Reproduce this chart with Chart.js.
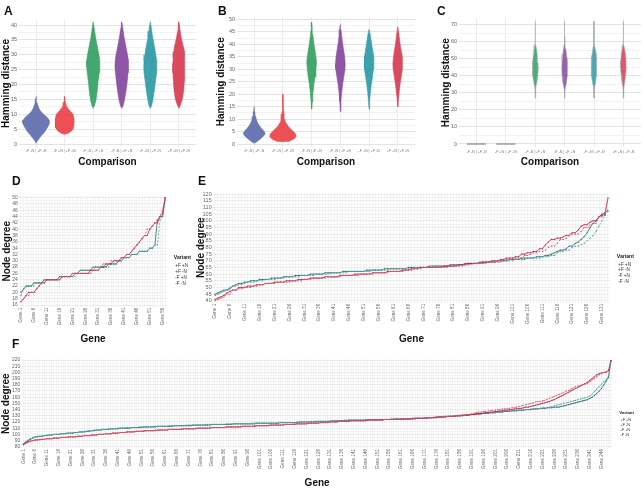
<!DOCTYPE html>
<html>
<head>
<meta charset="utf-8">
<script src="https://cdn.jsdelivr.net/npm/chart.js@4.4.0/dist/chart.umd.min.js"></script>
<style>
  body { margin: 0; background: #fff; width: 642px; height: 490px; position: relative; overflow: hidden; font-family: 'Liberation Sans', Arial, sans-serif; }
  canvas { position: absolute; }
  .tag { position: absolute; font-weight: bold; font-size: 12px; color: #111; line-height: 12px; }
</style>
</head>
<body>
<canvas id="chartF" width="642" height="155" style="left:0;top:335px"></canvas>
<canvas id="chartD" width="200" height="177" style="left:0;top:170px"></canvas>
<canvas id="chartE" width="447" height="177" style="left:195px;top:170px"></canvas>
<canvas id="chartA" width="215" height="170" style="left:0;top:0"></canvas>
<canvas id="chartB" width="215" height="170" style="left:215px;top:0"></canvas>
<canvas id="chartC" width="202" height="170" style="left:440px;top:0"></canvas>
<div class="tag" style="left:4px;top:5px">A</div>
<div class="tag" style="left:218px;top:5px">B</div>
<div class="tag" style="left:437px;top:5px">C</div>
<div class="tag" style="left:12px;top:175px">D</div>
<div class="tag" style="left:198px;top:175px">E</div>
<div class="tag" style="left:12px;top:338px">F</div>
<script>
// ---- Data ----
const comparisons = ['-F -N | +F -N', '-F +N | +F +N', '-F -N | -F +N', '-F -N | +F +N', '-F +N | +F -N', '+F +N | +F -N'];
const variants = ['+F +N', '+F -N', '-F +N', '-F -N'];

// violin profiles: [hamming distance, half width]
const aV1 = [[0.3,0],[1,0.04],[2,0.12],[3,0.2],[4,0.29],[5,0.36],[6,0.42],[7,0.47],[8,0.46],[9,0.38],[10,0.26],[11,0.16],[12,0.1],[13,0.06],[14,0.03],[15,0.015],[16,0]];
const aV2 = [[3.3,0],[3.6,0.12],[4.5,0.25],[5.5,0.31],[7,0.33],[8.5,0.33],[10,0.29],[11,0.2],[12,0.11],[13,0.05],[14,0.03],[15,0.015],[16,0]];
const aV3 = [[12,0],[13,0.05],[15,0.1],[18,0.14],[21,0.17],[24,0.21],[26,0.23],[28,0.23],[30,0.2],[32,0.16],[34,0.12],[36,0.08],[38,0.05],[40,0.02],[41,0]];
const aV4 = [[12,0],[13,0.05],[15,0.1],[18,0.15],[21,0.19],[24,0.22],[26,0.24],[28,0.23],[30,0.2],[32,0.16],[34,0.12],[36,0.08],[38,0.05],[40,0.02],[41,0]];
const aV5 = [[12,0],[13,0.05],[15,0.09],[18,0.14],[21,0.18],[24,0.22],[26,0.23],[28,0.22],[30,0.19],[32,0.16],[34,0.12],[36,0.08],[38,0.05],[40,0.02],[41,0]];
const aV6 = [[12,0],[13,0.05],[15,0.12],[18,0.17],[21,0.19],[24,0.21],[27,0.21],[29,0.2],[31,0.18],[33,0.15],[35,0.1],[37,0.06],[39,0.03],[41,0]];

const bV1 = [[0.3,0],[1,0.1],[2,0.21],[3,0.31],[4,0.38],[5,0.35],[6,0.27],[7,0.2],[8,0.14],[9,0.1],[10,0.07],[11,0.05],[12,0.03],[13,0.02],[15,0]];
const bV2 = [[0.9,0],[1.1,0.22],[2,0.38],[3,0.46],[4,0.44],[5,0.36],[6,0.27],[7,0.19],[8,0.13],[9,0.08],[10,0.06],[12,0.04],[14,0.02],[17,0.01],[20,0]];
const bV3 = [[14,0],[17,0.02],[20,0.04],[24,0.08],[27,0.12],[30,0.15],[33,0.17],[35,0.15],[38,0.11],[41,0.07],[44,0.04],[47,0.02],[49,0]];
const bV4 = [[13,0],[17,0.02],[20,0.04],[24,0.08],[27,0.12],[30,0.16],[32,0.17],[35,0.15],[38,0.11],[41,0.07],[44,0.04],[46,0.02],[48,0]];
const bV5 = [[14,0],[17,0.02],[20,0.04],[24,0.08],[27,0.12],[30,0.15],[33,0.17],[35,0.16],[38,0.12],[41,0.08],[44,0.04],[46,0]];
const bV6 = [[15,0],[18,0.02],[21,0.05],[24,0.08],[27,0.12],[30,0.16],[32,0.17],[35,0.15],[38,0.11],[41,0.07],[44,0.04],[47,0]];

const cV1 = [[-0.4,0.31],[0.4,0.31]];
const cV2 = [[-0.4,0.31],[0.4,0.31]];
const cV3 = [[27,0.004],[33,0.015],[36,0.05],[40,0.08],[44,0.1],[48,0.09],[52,0.07],[56,0.04],[58,0.015],[62,0.006],[72,0.004]];
const cV4 = [[27,0.004],[32,0.015],[36,0.06],[40,0.09],[45,0.1],[49,0.09],[53,0.06],[56,0.04],[59,0.015],[63,0.006],[72,0.004]];
const cV5 = [[27,0.004],[33,0.015],[36,0.05],[40,0.08],[44,0.1],[48,0.09],[52,0.07],[56,0.04],[58,0.015],[62,0.006],[72,0.004]];
const cV6 = [[27,0.004],[33,0.015],[37,0.05],[41,0.08],[45,0.1],[49,0.09],[53,0.07],[56,0.04],[58,0.015],[62,0.006],[72,0.004]];

// node degree, sorted, as [degree, number of genes]
const dPP = [[17,1],[18,1],[19,2],[20,2],[21,1],[22,1],[23,2],[24,6],[25,4],[26,8],[27,3],[28,1],[29,3],[30,4],[31,2],[32,2],[33,1],[34,1],[35,1],[36,1],[37,1],[38,1],[40,2],[41,1],[42,1],[43,1],[44,1],[46,1],[50,1]];
const dPM = [[17,1],[18,1],[19,1],[20,3],[21,1],[22,1],[23,2],[24,6],[25,4],[26,7],[27,4],[28,2],[29,3],[30,3],[31,2],[32,2],[33,1],[34,1],[35,1],[36,1],[37,1],[38,2],[40,1],[41,1],[42,2],[44,1],[45,1],[50,1]];
const dMP = [[19,1],[21,1],[22,4],[23,3],[24,7],[25,6],[26,1],[27,6],[28,6],[29,3],[30,2],[31,3],[32,3],[33,4],[34,2],[35,2],[43,1],[44,1],[50,1]];
const dMM = [[20,1],[21,1],[22,3],[23,4],[24,6],[25,6],[26,2],[27,5],[28,6],[29,4],[30,2],[31,3],[32,3],[33,4],[34,2],[35,1],[43,1],[44,2],[50,1]];

const ePP = [[40,1],[41,1],[42,1],[43,1],[45,2],[48,2],[49,2],[50,3],[51,2],[52,2],[53,4],[54,5],[55,4],[56,3],[57,5],[58,5],[59,6],[60,5],[61,5],[62,5],[63,3],[64,3],[65,9],[66,5],[67,3],[68,4],[69,4],[70,3],[71,3],[72,3],[74,2],[75,1],[76,2],[77,2],[78,1],[80,1],[81,2],[83,1],[86,2],[87,1],[89,1],[90,3],[92,1],[95,2],[97,1],[98,2],[103,2],[104,1],[117,1]];
const ePM = [[41,1],[42,1],[43,1],[44,1],[46,1],[47,1],[48,2],[50,3],[51,3],[52,3],[53,3],[54,4],[55,4],[56,4],[57,5],[58,5],[59,5],[60,6],[61,5],[62,5],[63,3],[64,3],[65,8],[66,5],[67,3],[68,4],[69,4],[70,3],[71,2],[72,3],[73,2],[75,2],[76,2],[77,2],[79,2],[82,1],[84,1],[86,2],[87,2],[88,1],[89,2],[91,2],[93,1],[96,1],[97,2],[99,1],[100,2],[103,1],[104,1],[105,1],[117,1]];
const eMP = [[44,1],[45,1],[46,1],[47,1],[48,1],[50,1],[51,2],[52,2],[53,1],[54,3],[55,3],[56,4],[57,3],[58,5],[59,5],[60,5],[61,6],[62,8],[63,6],[64,8],[65,7],[66,7],[67,5],[68,6],[69,5],[70,4],[71,4],[72,5],[73,3],[74,2],[76,1],[77,2],[78,2],[80,1],[81,2],[82,1],[83,1],[85,1],[87,1],[89,1],[92,1],[96,1],[100,1],[104,1],[107,1]];
const eMM = [[45,1],[46,1],[47,1],[48,2],[49,1],[51,1],[52,1],[53,2],[54,2],[55,3],[56,4],[57,4],[58,4],[59,5],[60,5],[61,6],[62,8],[63,6],[64,8],[65,7],[66,7],[67,5],[68,6],[69,5],[70,4],[71,4],[72,5],[73,3],[74,2],[75,1],[76,1],[77,1],[78,2],[79,1],[81,2],[83,1],[84,1],[86,1],[88,1],[91,1],[95,1],[98,1],[100,1],[103,1],[105,1],[106,1],[108,1]];

const fPP = [[83,1],[85,1],[87,1],[89,1],[90,2],[91,2],[92,2],[93,3],[94,3],[95,4],[96,3],[97,3],[98,3],[99,3],[100,3],[101,3],[102,3],[103,3],[104,3],[105,4],[106,5],[107,5],[108,6],[109,6],[110,6],[111,7],[112,6],[113,6],[114,6],[115,6],[116,5],[117,5],[118,4],[119,4],[120,5],[121,5],[122,7],[123,8],[124,7],[125,6],[126,5],[127,4],[128,4],[129,4],[130,3],[131,2],[132,2],[133,1],[134,1],[135,1],[136,2],[137,2],[138,2],[139,2],[140,2],[141,2],[142,2],[143,2],[144,1],[145,1],[146,1],[147,1],[148,1],[149,1],[150,1],[151,1],[152,1],[153,2],[154,1],[155,1],[157,1],[158,1],[160,1],[161,1],[163,1],[164,1],[166,1],[168,1],[170,1],[171,1],[173,1],[175,1],[177,1],[178,1],[179,1],[180,1],[181,1],[182,1],[185,1],[188,1],[190,1],[193,1],[196,1],[198,1],[200,2],[205,1],[219,1]];
const fPM = [[84,1],[86,1],[88,1],[89,1],[90,1],[91,2],[92,3],[93,3],[94,3],[95,3],[96,4],[97,3],[98,3],[99,3],[100,3],[101,3],[102,3],[103,3],[104,4],[105,4],[106,5],[107,5],[108,6],[109,6],[110,6],[111,6],[112,7],[113,6],[114,6],[115,6],[116,5],[117,5],[118,5],[119,4],[120,4],[121,5],[122,7],[123,7],[124,8],[125,6],[126,5],[127,4],[128,4],[129,4],[130,3],[131,3],[132,2],[133,2],[134,2],[135,2],[136,2],[137,2],[138,2],[139,2],[140,2],[141,2],[142,2],[143,1],[144,2],[145,1],[146,1],[147,1],[148,1],[149,1],[150,1],[151,1],[152,1],[153,1],[155,1],[156,1],[158,1],[160,1],[162,1],[164,1],[166,1],[168,1],[170,1],[172,1],[174,1],[176,1],[178,1],[180,1],[182,1],[184,1],[187,1],[190,1],[193,1],[196,1],[198,1],[199,1],[200,1],[201,1],[203,1],[219,1]];
const fMP = [[85,1],[88,1],[91,1],[93,1],[95,1],[96,1],[97,2],[98,2],[99,3],[100,3],[101,2],[102,3],[103,3],[104,2],[105,2],[106,2],[107,3],[108,3],[109,4],[110,4],[111,5],[112,6],[113,7],[114,7],[115,8],[116,9],[117,11],[118,11],[119,8],[120,6],[121,8],[122,6],[123,9],[124,11],[125,8],[126,6],[127,4],[128,4],[129,3],[130,3],[131,4],[132,2],[133,3],[134,3],[135,4],[136,3],[137,3],[138,3],[139,3],[140,3],[141,2],[142,3],[143,3],[144,1],[145,1],[146,1],[147,1],[148,1],[149,1],[150,1],[151,1],[152,1],[153,1],[154,1],[155,1],[156,1],[157,1],[158,1],[159,1],[160,1],[162,1],[165,1],[169,1],[173,1],[177,1],[181,1],[185,1],[188,1],[195,1],[219,1]];
const fMM = [[84,1],[87,1],[90,1],[92,1],[94,1],[96,2],[97,2],[98,2],[99,2],[100,3],[101,3],[102,3],[103,2],[104,3],[105,2],[106,2],[107,3],[108,3],[109,4],[110,5],[111,5],[112,6],[113,7],[114,8],[115,8],[116,9],[117,10],[118,10],[119,8],[120,7],[121,7],[122,7],[123,9],[124,10],[125,8],[126,6],[127,4],[128,4],[129,4],[130,3],[131,3],[132,3],[133,3],[134,3],[135,3],[136,3],[137,3],[138,3],[139,3],[140,3],[141,3],[142,3],[143,3],[144,3],[145,1],[146,1],[147,1],[148,1],[149,1],[150,1],[151,1],[152,1],[153,1],[154,1],[155,1],[156,1],[158,1],[160,1],[163,1],[166,1],[170,1],[174,1],[180,1],[186,1],[192,1],[219,1]];

// ---- Styling ----
Chart.defaults.font.family = "'Liberation Sans', Arial, sans-serif";
Chart.defaults.color = '#555';
Chart.defaults.animation = false;
Chart.defaults.plugins.tooltip.enabled = false;

const violinFills = ['rgba(96,108,172,0.92)', 'rgba(236,66,70,0.92)', 'rgba(52,160,98,0.92)', 'rgba(134,72,160,0.92)', 'rgba(44,154,164,0.92)', 'rgba(216,60,82,0.92)'];
const variantColors = ['#E0566B', '#B8213F', '#45A89F', '#2F6470'];
const variantDash = [[2, 1.5], [], [2, 1.5], []];

function expandRuns(runs) {
    const out = [];
    runs.forEach(([v, n]) => { for (let i = 0; i < n; i++) out.push(v); });
    return out;
}

function violinShape(center, profile) {
    const right = profile.map(([y, w]) => ({ x: center + w, y: y }));
    const left = profile.slice().reverse().map(([y, w]) => ({ x: center - w, y: y }));
    return right.concat(left);
}

function gridTicks(lo, hi, step) {
    const t = [];
    for (let v = Math.ceil(lo / step) * step; v <= hi + 1e-9; v += step) t.push({ value: Math.round(v * 100) / 100 });
    return t;
}

function violinChart(id, profiles, fills, stroke, box) {
    return new Chart(document.getElementById(id), {
        type: 'line',
        data: {
            datasets: profiles.map((p, i) => ({
                data: violinShape(i + 1, p),
                fill: 'shape',
                backgroundColor: fills[i],
                borderColor: stroke || fills[i],
                borderWidth: 0.6,
                pointRadius: 0,
                tension: 0
            }))
        },
        options: {
            responsive: false,
            layout: { padding: box.pad },
            plugins: { legend: { display: false } },
            scales: {
                x: {
                    type: 'linear', min: 0.4, max: 6.6,
                    afterBuildTicks: s => { s.ticks = comparisons.map((c, i) => ({ value: i + 1 })); },
                    ticks: { callback: v => comparisons[v - 1], font: { size: 3.6 }, color: '#777', maxRotation: 0, autoSkip: false, padding: 2 },
                    grid: { color: '#ebebeb', drawTicks: false },
                    border: { display: false },
                    title: { display: true, text: 'Comparison', font: { size: 10, weight: 'bold' }, color: '#111', padding: 0 },
                    afterFit: s => { s.height = box.xh; }
                },
                y: {
                    min: box.yMin, max: box.yMax,
                    afterBuildTicks: s => { s.ticks = gridTicks(box.yMin, box.yMax, box.step / 2); },
                    ticks: { autoSkip: false, callback: v => (v % box.step === 0 ? v : ''), font: { size: 5.5 }, color: '#666', padding: 2 },
                    grid: { color: c => (c.tick.value % box.step === 0 ? '#e4e4e4' : '#f2f2f2'), drawTicks: false },
                    border: { display: false },
                    title: { display: true, text: 'Hamming distance', font: { size: 10, weight: 'bold' }, color: '#111', padding: 0 },
                    afterFit: s => { s.width = box.yw; }
                }
            }
        }
    });
}

function degreeChart(id, runsList, box) {
    const series = runsList.map(expandRuns);
    const genes = series[0].map((v, i) => i + 1);
    return new Chart(document.getElementById(id), {
        type: 'line',
        data: {
            labels: genes,
            datasets: series.map((s, i) => ({
                label: variants[i],
                data: s,
                borderColor: variantColors[i],
                backgroundColor: variantColors[i],
                borderDash: variantDash[i],
                borderWidth: 0.8,
                pointRadius: 0.6,
                pointBorderWidth: 0,
                tension: 0
            }))
        },
        options: {
            responsive: false,
            layout: { padding: box.pad },
            plugins: {
                legend: {
                    position: 'right',
                    title: { display: true, text: 'Variant', font: { size: box.lf + 0.6, weight: 'bold' }, color: '#222', padding: 1 },
                    labels: { usePointStyle: true, pointStyle: 'line', pointStyleWidth: 5, boxHeight: 3, font: { size: box.lf }, color: '#333', padding: 1.2 }
                }
            },
            scales: {
                x: {
                    type: 'linear', min: 0.4, max: genes.length + 0.6,
                    afterBuildTicks: s => { s.ticks = genes.map(g => ({ value: g })); },
                    ticks: { autoSkip: false, minRotation: 90, maxRotation: 90, font: { size: 4.6 }, color: '#666', padding: 1,
                        callback: v => ((v - 1) % 5 === 0 ? 'Gene ' + v : '') },
                    grid: { color: '#ececec', lineWidth: 0.6, drawTicks: false },
                    border: { display: false },
                    title: { display: true, text: 'Gene', font: { size: 10, weight: 'bold' }, color: '#111', padding: 0 },
                    afterFit: s => { s.height = box.xh; }
                },
                y: {
                    min: box.yMin, max: box.yMax,
                    afterBuildTicks: s => { s.ticks = gridTicks(box.yMin, box.yMax, box.minor); },
                    ticks: { autoSkip: false, callback: v => (v % box.step === 0 ? v : ''), font: { size: box.yf }, color: '#666', padding: 1.5 },
                    grid: { color: c => (c.tick.value % box.step === 0 ? '#e2e2e2' : '#efefef'), lineWidth: 0.6, drawTicks: false },
                    border: { display: false },
                    title: { display: true, text: 'Node degree', font: { size: 10, weight: 'bold' }, color: '#111', padding: 0 },
                    afterFit: s => { s.width = box.yw; }
                }
            }
        }
    });
}

violinChart('chartA', [aV1, aV2, aV3, aV4, aV5, aV6], violinFills, null,
    { pad: { top: 20, right: 19, bottom: 2, left: 0 }, yw: 19, xh: 21, yMin: -1, yMax: 41.7, step: 5 });
violinChart('chartB', [bV1, bV2, bV3, bV4, bV5, bV6], violinFills, null,
    { pad: { top: 17, right: 15, bottom: 2, left: 0 }, yw: 22, xh: 21.5, yMin: -1, yMax: 51, step: 5 });
violinChart('chartC', [cV1, cV2, cV3, cV4, cV5, cV6],
    ['rgba(150,150,150,0.9)', 'rgba(150,150,150,0.9)', 'rgba(52,160,98,0.85)', 'rgba(134,72,160,0.85)', 'rgba(44,154,164,0.85)', 'rgba(216,60,82,0.85)'],
    'rgba(170,170,170,0.9)',
    { pad: { top: 18, right: 1, bottom: 2, left: 0 }, yw: 19, xh: 20.6, yMin: -2, yMax: 74, step: 10 });

degreeChart('chartD', [dPP, dPM, dMP, dMM],
    { pad: { top: 26, right: 2, bottom: 2, left: 1 }, yw: 18.4, xh: 38.4, yMin: 15.5, yMax: 50.5, step: 2, minor: 1, yf: 5, lf: 4.6 });
degreeChart('chartE', [ePP, ePM, eMP, eMM],
    { pad: { top: 22.7, right: 1, bottom: 2, left: 0 }, yw: 18.2, xh: 42.2, yMin: 38.5, yMax: 121, step: 5, minor: 2.5, yf: 5.5, lf: 4.6 });
degreeChart('chartF', [fPP, fPM, fMP, fMM],
    { pad: { top: 24.4, right: 1, bottom: 1, left: 0 }, yw: 21.9, xh: 41, yMin: 78, yMax: 221, step: 10, minor: 5, yf: 5, lf: 3.8 });
</script>
</body>
</html>
